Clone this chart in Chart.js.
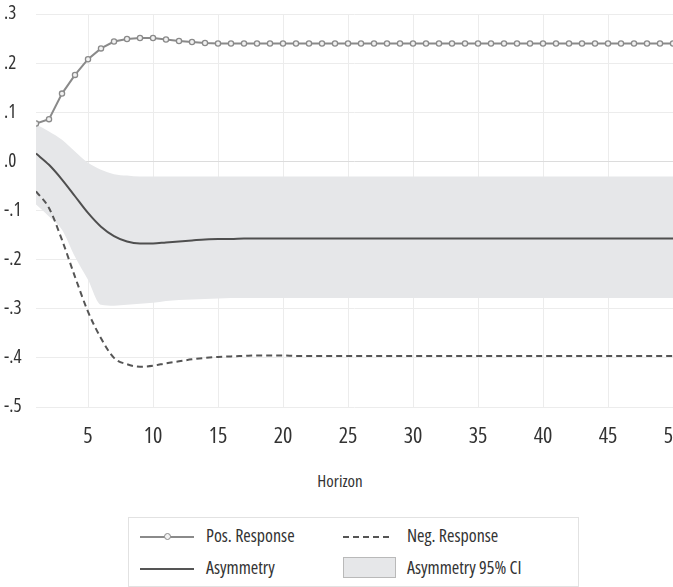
<!DOCTYPE html>
<html>
<head>
<meta charset="utf-8">
<script src="https://cdn.jsdelivr.net/npm/chart.js@4/dist/chart.umd.min.js"></script>
<style>
  html, body { margin: 0; padding: 0; background: #fff; overflow: hidden; }
  body { width: 673px; height: 587px; position: relative; font-family: "Open Sans", sans-serif; font-stretch: 75%; color: #333; }
  #wrap { position: absolute; left: 0; top: 0; width: 693px; height: 447px; }
  #xtitle { position: absolute; left: 0; width: 680px; top: 469px; text-align: center; font-size: 17px; line-height: 24px; }
  #legend { position: absolute; left: 128px; top: 517px; width: 449px; height: 68px; border: 1px solid #e2e2e2; }
  .item { position: absolute; font-size: 18px; line-height: 24px; white-space: nowrap; }
  .sym { position: absolute; }
</style>
</head>
<body>
<div id="wrap"><canvas id="chart"></canvas></div>
<div id="xtitle">Horizon</div>
<div id="legend">
  <div class="sym" style="left:11px;top:18px;width:54px;height:2px;background:#8a8a8a;"></div>
  <div class="sym" style="left:35px;top:15px;width:5px;height:5px;border:1.3px solid #8a8a8a;border-radius:50%;background:#f2f2f2;"></div>
  <div class="item" style="left:77px;top:5px;">Pos. Response</div>

  <div class="sym" style="left:214px;top:18px;width:50px;height:2px;background:repeating-linear-gradient(to right,#555 0 6px,transparent 6px 10px);"></div>
  <div class="item" style="left:278px;top:5px;">Neg. Response</div>

  <div class="sym" style="left:11px;top:50px;width:54px;height:2px;background:#555;"></div>
  <div class="item" style="left:77px;top:37px;">Asymmetry</div>

  <div class="sym" style="left:214px;top:39px;width:51px;height:19px;background:#e6e7e9;border:1px solid #b9b9b9;"></div>
  <div class="item" style="left:278px;top:37px;">Asymmetry 95% CI</div>
</div>
<script>
// Horizons 1..50
const horizon = [1,2,3,4,5,6,7,8,9,10,11,12,13,14,15,16,17,18,19,20,21,22,23,24,25,26,27,28,29,30,31,32,33,34,35,36,37,38,39,40,41,42,43,44,45,46,47,48,49,50];

const posResponse = [0.077,0.086,0.138,0.176,0.208,0.230,0.244,0.249,0.251,0.251,0.248,0.245,0.243,0.241,0.240,0.240,0.240,0.240,0.240,0.240,0.240,0.240,0.240,0.240,0.240,0.240,0.240,0.240,0.240,0.240,0.240,0.240,0.240,0.240,0.240,0.240,0.240,0.240,0.240,0.240,0.240,0.240,0.240,0.240,0.240,0.240,0.240,0.240,0.240,0.240];

const negResponse = [-0.061,-0.095,-0.160,-0.235,-0.306,-0.360,-0.400,-0.413,-0.418,-0.416,-0.411,-0.407,-0.403,-0.400,-0.398,-0.397,-0.396,-0.395,-0.395,-0.395,-0.396,-0.396,-0.396,-0.396,-0.396,-0.396,-0.396,-0.396,-0.396,-0.396,-0.396,-0.396,-0.396,-0.396,-0.396,-0.396,-0.396,-0.396,-0.396,-0.396,-0.396,-0.396,-0.396,-0.396,-0.396,-0.396,-0.396,-0.396,-0.396,-0.396];

const asymmetry = [0.016,-0.007,-0.037,-0.071,-0.105,-0.133,-0.152,-0.163,-0.167,-0.167,-0.165,-0.163,-0.161,-0.159,-0.158,-0.158,-0.157,-0.157,-0.157,-0.157,-0.157,-0.157,-0.157,-0.157,-0.157,-0.157,-0.157,-0.157,-0.157,-0.157,-0.157,-0.157,-0.157,-0.157,-0.157,-0.157,-0.157,-0.157,-0.157,-0.157,-0.157,-0.157,-0.157,-0.157,-0.157,-0.157,-0.157,-0.157,-0.157,-0.157];

const ciUpper = [0.075,0.061,0.044,0.020,-0.003,-0.017,-0.026,-0.029,-0.031,-0.031,-0.031,-0.031,-0.031,-0.031,-0.031,-0.031,-0.031,-0.031,-0.031,-0.031,-0.031,-0.031,-0.031,-0.031,-0.031,-0.031,-0.031,-0.031,-0.031,-0.031,-0.031,-0.031,-0.031,-0.031,-0.031,-0.031,-0.031,-0.031,-0.031,-0.031,-0.031,-0.031,-0.031,-0.031,-0.031,-0.031,-0.031,-0.031,-0.031,-0.031];

const ciLower = [-0.088,-0.112,-0.139,-0.194,-0.241,-0.292,-0.294,-0.292,-0.290,-0.288,-0.284,-0.282,-0.281,-0.280,-0.279,-0.278,-0.278,-0.278,-0.278,-0.278,-0.278,-0.278,-0.278,-0.278,-0.278,-0.278,-0.278,-0.278,-0.278,-0.278,-0.278,-0.278,-0.278,-0.278,-0.278,-0.278,-0.278,-0.278,-0.278,-0.278,-0.278,-0.278,-0.278,-0.278,-0.278,-0.278,-0.278,-0.278,-0.278,-0.278];

const xTicks = [5,10,15,20,25,30,35,40,45,50];
const yTicks = [0.3,0.2,0.1,0.0,-0.1,-0.2,-0.3,-0.4,-0.5];
const yTickLabels = ['.3','.2','.1','.0','-.1','-.2','-.3','-.4','-.5'];

// condensed Open Sans for all axis text
const FONT = "'Open Sans', sans-serif";
const pts = arr => arr.map((v, i) => ({ x: horizon[i], y: v }));

new Chart(document.getElementById('chart'), {
  type: 'line',
  data: {
    datasets: [
      {
        label: 'Pos. Response', data: pts(posResponse),
        borderColor: '#8a8a8a', borderWidth: 2,
        pointRadius: 2.6, pointBorderWidth: 1.3,
        pointBackgroundColor: '#f2f2f2', pointBorderColor: '#8a8a8a',
        fill: false, tension: 0
      },
      {
        label: 'Asymmetry', data: pts(asymmetry),
        borderColor: '#4f4f4f', borderWidth: 2, pointRadius: 0,
        fill: false, cubicInterpolationMode: 'monotone'
      },
      {
        label: 'Neg. Response', data: pts(negResponse),
        borderColor: '#555555', borderWidth: 2, borderDash: [6, 4], pointRadius: 0,
        fill: false, cubicInterpolationMode: 'monotone'
      },
      {
        label: 'Asymmetry 95% CI', data: pts(ciUpper),
        borderWidth: 0, borderColor: 'rgba(0,0,0,0)', pointRadius: 0,
        backgroundColor: '#e6e7e9', fill: '+1', cubicInterpolationMode: 'monotone'
      },
      {
        label: 'CI lower', data: pts(ciLower),
        borderWidth: 0, borderColor: 'rgba(0,0,0,0)', pointRadius: 0,
        fill: false, cubicInterpolationMode: 'monotone'
      }
    ]
  },
  options: {
    responsive: true,
    maintainAspectRatio: false,
    animation: false,
    layout: { padding: { left: 4, top: 14, right: 20, bottom: 0 } },
    plugins: {
      legend: { display: false },
      tooltip: { enabled: false },
      filler: { drawTime: 'beforeDatasetsDraw' }
    },
    scales: {
      x: {
        type: 'linear', min: 1, max: 50,
        border: { display: false },
        grid: { color: '#ececec', lineWidth: 1, drawTicks: false },
        ticks: { font: { family: FONT, size: 22, weight: 'normal condensed' }, color: '#333', padding: 17, maxRotation: 0 },
        afterBuildTicks: s => { s.ticks = xTicks.map(v => ({ value: v })); },
        afterFit: s => { s.height = 40; s.paddingLeft = 0; s.paddingRight = 0; }
      },
      y: {
        min: -0.5, max: 0.3,
        border: { display: false },
        grid: {
          color: c => (c.tick && c.tick.value === 0) ? '#dcdcdc' : '#ececec',
          lineWidth: 1, drawTicks: false
        },
        ticks: {
          font: { family: FONT, size: 19, weight: 'normal condensed' }, color: '#333', crossAlign: 'far', padding: 0,
          callback: (v, i) => yTickLabels[yTicks.indexOf(Math.round(v * 10) / 10)]
        },
        afterBuildTicks: s => { s.ticks = yTicks.map(v => ({ value: v })); },
        afterFit: s => { s.width = 32; s.paddingTop = 0; s.paddingBottom = 0; }
      }
    }
  }
});
</script>
</body>
</html>
